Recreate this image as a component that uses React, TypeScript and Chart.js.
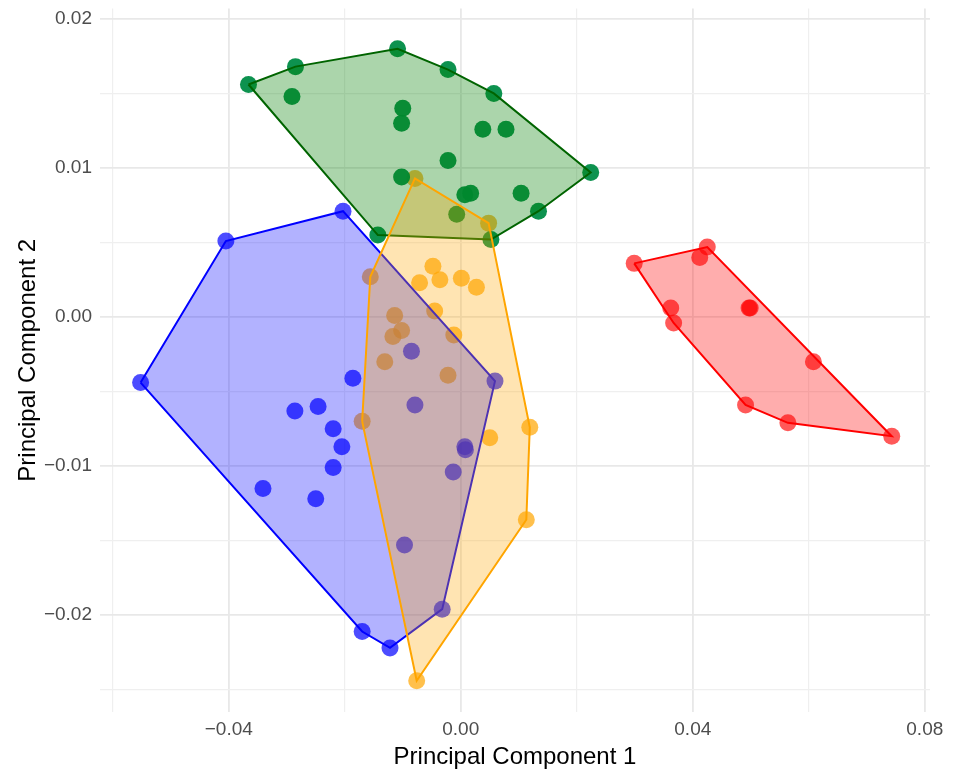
import React, { useEffect, useRef } from "react";
import { Chart, registerables } from "chart.js";

Chart.register(...registerables);

// ---- data ----
const blueX = [-0.0405, -0.0203, -0.0552, -0.0186, -0.0286, -0.0246, -0.022, -0.0205, -0.022, -0.0341, -0.025, -0.0085, 0.0059, -0.0079, 0.0007, 0.0008, -0.0013, -0.0097, -0.0032, -0.017, -0.0122];
const blueY = [0.0051, 0.0071, -0.0044, -0.0041, -0.0063, -0.006, -0.0075, -0.0087, -0.0101, -0.0115, -0.0122, -0.0023, -0.0043, -0.0059, -0.0087, -0.0089, -0.0104, -0.0153, -0.0196, -0.0211, -0.0222];

const orangeX = [-0.0079, 0.0048, -0.0156, -0.0048, -0.0071, -0.0036, 0.0001, 0.0027, -0.0045, -0.0114, -0.0102, -0.0117, -0.0012, -0.0131, -0.0022, -0.017, 0.0119, 0.005, 0.0113, -0.0076];
const orangeY = [0.0093, 0.0063, 0.0027, 0.0034, 0.0023, 0.0025, 0.0026, 0.002, 0.0004, 0.0001, -0.0009, -0.0013, -0.0012, -0.003, -0.0039, -0.007, -0.0074, -0.0081, -0.0136, -0.0244];

const greenX = [-0.0366, -0.0285, -0.0291, -0.0109, -0.0022, 0.0057, -0.01, -0.0102, 0.0038, 0.0078, -0.0022, 0.0224, -0.0102, 0.0104, 0.0007, 0.0017, 0.0134, -0.0007, -0.0143, 0.0052];
const greenY = [0.0156, 0.0168, 0.0148, 0.018, 0.0166, 0.015, 0.014, 0.013, 0.0126, 0.0126, 0.0105, 0.0097, 0.0094, 0.0083, 0.0082, 0.0083, 0.0071, 0.0069, 0.0055, 0.0052];

const redX = [0.0299, 0.0425, 0.0412, 0.0362, 0.0367, 0.0497, 0.0499, 0.0608, 0.0491, 0.0564, 0.0743];
const redY = [0.0036, 0.0047, 0.004, 0.0006, -0.0004, 0.0006, 0.0006, -0.003, -0.0059, -0.0071, -0.008];

const xMajorTicks = [-0.04, 0, 0.04, 0.08];
const yMajorTicks = [-0.02, -0.01, 0, 0.01, 0.02];

type P = { x: number; y: number };

function toPoints(xs: number[], ys: number[]): P[] {
  return xs.map((x, i) => ({ x, y: ys[i] }));
}

function hull(pts: P[]): P[] {
  const p = [...pts].sort((a, b) => a.x - b.x || a.y - b.y);
  const cross = (o: P, a: P, b: P) => (a.x - o.x) * (b.y - o.y) - (a.y - o.y) * (b.x - o.x);
  const lower: P[] = [];
  for (const q of p) {
    while (lower.length >= 2 && cross(lower[lower.length - 2], lower[lower.length - 1], q) <= 0) lower.pop();
    lower.push(q);
  }
  const upper: P[] = [];
  for (let i = p.length - 1; i >= 0; i--) {
    const q = p[i];
    while (upper.length >= 2 && cross(upper[upper.length - 2], upper[upper.length - 1], q) <= 0) upper.pop();
    upper.push(q);
  }
  upper.pop();
  lower.pop();
  const h = lower.concat(upper);
  return h.concat([h[0]]);
}

function isMulti(v: number, step: number) {
  const r = v / step;
  return Math.abs(r - Math.round(r)) < 1e-6;
}

function fmt(v: number) {
  const s = Math.abs(v) < 1e-9 ? "0.00" : Math.abs(v).toFixed(2);
  return v < -1e-9 ? "\u2212" + s : s;
}

const FONT = "'Liberation Sans', Arial, sans-serif";

export default function App() {
  const ref = useRef<HTMLCanvasElement>(null);
  useEffect(() => {
    document.body.style.margin = "0";
    if (!ref.current) return;
    const groups = [
      { name: "blue", xs: blueX, ys: blueY, pt: "rgba(0,0,255,0.7)", line: "#0000ff", fill: "rgba(0,0,255,0.3)", order: 4 },
      { name: "green", xs: greenX, ys: greenY, pt: "rgba(0,140,70,0.95)", line: "#006400", fill: "rgba(0,128,0,0.33)", order: 3 },
      { name: "orange", xs: orangeX, ys: orangeY, pt: "rgba(255,165,0,0.7)", line: "#ffa500", fill: "rgba(255,165,0,0.3)", order: 2 },
      { name: "red", xs: redX, ys: redY, pt: "rgba(255,0,0,0.65)", line: "#ff0000", fill: "rgba(255,0,0,0.32)", order: 1 },
    ];
    const datasets: any[] = [];
    groups.forEach((g) => {
      const pts = toPoints(g.xs, g.ys);
      datasets.push({
        label: g.name + " points",
        data: pts,
        showLine: false,
        pointRadius: 8.5,
        pointBorderWidth: 0,
        pointBackgroundColor: g.pt,
        backgroundColor: g.pt,
        borderColor: "rgba(0,0,0,0)",
        order: 10,
      });
    });
    groups.forEach((g) => {
      const h = hull(toPoints(g.xs, g.ys));
      datasets.push({
        label: g.name + " hull",
        data: h,
        showLine: true,
        fill: "shape",
        tension: 0,
        pointRadius: 0,
        borderWidth: 2,
        borderColor: g.line,
        backgroundColor: g.fill,
        order: g.order,
      });
    });

    const isMajor = (list: number[], v: number) => list.some((t) => Math.abs(t - v) < 1e-9);

    const chart = new Chart(ref.current, {
      type: "scatter",
      data: { datasets },
      options: {
        animation: false,
        responsive: false,
        maintainAspectRatio: false,
        layout: { padding: { top: 8, right: 24, left: 0, bottom: 0 } },
        plugins: { legend: { display: false }, tooltip: { enabled: false } },
        scales: {
          x: {
            type: "linear",
            min: -0.0622,
            max: 0.0809,
            afterFit: (s: any) => {
              s.height = 64;
              s.paddingLeft = 0;
              s.paddingRight = 0;
            },
            border: { display: false },
            grid: {
              drawTicks: false,
              color: (c: any) => (isMajor(xMajorTicks, c.tick.value) ? "#e8e8e8" : "#efefef"),
              lineWidth: (c: any) => (isMajor(xMajorTicks, c.tick.value) ? 1.8 : 1.2),
            },
            ticks: {
              stepSize: 0.02,
              includeBounds: false,
              padding: 6,
              color: "#4d4d4d",
              font: { family: FONT, size: 19 },
              maxRotation: 0,
              autoSkip: false,
              callback: (v: any) => (isMulti(Number(v), 0.04) ? fmt(Number(v)) : ""),
            },
            title: {
              display: true,
              text: "Principal Component 1",
              color: "#000000",
              font: { family: FONT, size: 24 },
              padding: { top: 0, bottom: 4 },
            },
          },
          y: {
            type: "linear",
            min: -0.0265,
            max: 0.0207,
            afterFit: (s: any) => {
              s.width = 100;
              s.paddingTop = 0;
              s.paddingBottom = 0;
            },
            border: { display: false },
            grid: {
              drawTicks: false,
              color: (c: any) => (isMajor(yMajorTicks, c.tick.value) ? "#e8e8e8" : "#efefef"),
              lineWidth: (c: any) => (isMajor(yMajorTicks, c.tick.value) ? 1.8 : 1.2),
            },
            ticks: {
              stepSize: 0.005,
              includeBounds: false,
              padding: 8,
              color: "#4d4d4d",
              font: { family: FONT, size: 19 },
              autoSkip: false,
              callback: (v: any) => (isMulti(Number(v), 0.01) ? fmt(Number(v)) : ""),
            },
            title: {
              display: true,
              text: "Principal Component 2",
              color: "#000000",
              font: { family: FONT, size: 24 },
              padding: { top: 14, bottom: 0 },
            },
          },
        },
      },
    });
    return () => chart.destroy();
  }, []);
  return (
    <div style={{ width: 954, height: 776 }}>
      <canvas ref={ref} width={954} height={776} style={{ display: "block" }} />
    </div>
  );
}
